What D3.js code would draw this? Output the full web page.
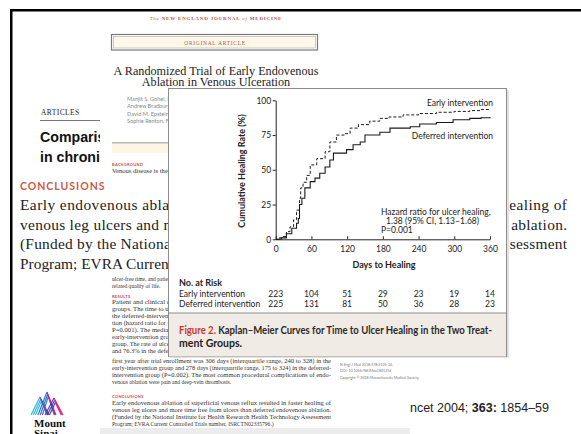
<!DOCTYPE html>
<html>
<head>
<meta charset="utf-8">
<script src="https://cdn.jsdelivr.net/npm/d3@7"></script>
<style>
  body { margin: 0; background: #fff; }
  svg { display: block; }
</style>
</head>
<body>
<svg id="slide" width="581" height="434"></svg>
<script>
// Kaplan-Meier curves
var earlyDays = [0, 10, 18, 24, 30, 35, 40, 42, 46, 52, 58, 69, 83, 91, 102, 116, 125, 139, 158, 175, 190, 214, 240, 270, 300, 326, 345, 360];
var earlyRate = [0, 2, 5.5, 9, 14, 21, 29.5, 37, 41, 46, 53.5, 58, 63, 70, 75, 76, 80, 82.5, 85, 87, 88, 89.5, 90.5, 91.4, 92, 92.6, 93.4, 93.8];
var deferredDays = [0, 7, 18, 27, 35, 38, 40, 44, 49, 58, 66, 74, 83, 91, 97, 108, 119, 130, 142, 150, 175, 192, 226, 242, 270, 298, 326, 345, 360];
var deferredRate = [0, 1, 4, 8, 11.5, 15, 25, 29.5, 37, 41.5, 44, 47.5, 52, 57, 62, 62, 64.5, 68, 70, 75, 77, 80, 81, 83, 84, 86, 87, 87.5, 88];

var xTicks = [0, 60, 120, 180, 240, 300, 360];
var yTicks = [0, 25, 50, 75, 100];
var riskEarly = [223, 104, 51, 29, 23, 19, 14];
var riskDeferred = [225, 131, 81, 50, 36, 28, 23];

var conclusionLines = [
  "Early endovenous ablation of superficial venous reflux resulted in faster healing of",
  "venous leg ulcers and more time free from ulcers than deferred endovenous ablation.",
  "(Funded by the National Institute for Health Research Health Technology Assessment",
  "Program; EVRA Current Controlled Trials number, ISRCTN02335796.)"
];
var resultsLines = [
  "Patient and clinical characteristics at baseline were similar in the two treatment",
  "groups. The time to ulcer healing was shorter among patients randomly assigned to",
  "the deferred-intervention group. The time to ulcer healing was shorter in the early",
  "tion (hazard ratio for ulcer healing, 1.38; 95% confidence interval [CI], 1.13 to 1.68;",
  "P=0.001). The median time to ulcer healing was 56 days (95% CI, 49 to 66) in the",
  "early-intervention group and 82 days (95% CI, 69 to 92) in the deferred-intervention",
  "group. The rate of ulcer healing at 24 weeks was 85.6% in the early-intervention group",
  "and 76.3% in the deferred-intervention group. The median ulcer-free time during the",
  "first year after trial enrollment was 306 days (interquartile range, 240 to 328) in the",
  "early-intervention group and 278 days (interquartile range, 175 to 324) in the deferred-",
  "intervention group (P=0.002). The most common procedural complications of endo-",
  "venous ablation were pain and deep-vein thrombosis."
];
var authorLines = ["Manjit S. Gohel, M.D.,", "Andrew Bradbury, M.D.,", "David M. Epstein, Ph.D.,", "Sophie Renton, F.R.C.S.,"];

var svg = d3.select("#slide");
var serif = "'Liberation Serif', 'DejaVu Serif', serif";
var sans = "Lato, 'Noto Sans', sans-serif";
var nejmRed = "#b3554a";

svg.append("rect").attr("width", 581).attr("height", 434).attr("fill", "#fff");

// ---- Lancet article behind everything ----
var lancet = svg.append("g");
lancet.append("text").attr("x", 41).attr("y", 115)
  .style("font-family", serif).style("font-size", "7.5px").style("letter-spacing", "0.4px")
  .attr("fill", "#222").text("ARTICLES");
lancet.append("line").attr("x1", 40).attr("x2", 110).attr("y1", 120.5).attr("y2", 120.5)
  .attr("stroke", "#555").attr("stroke-width", 0.8);
lancet.append("defs").append("clipPath").attr("id", "lclip")
  .append("rect").attr("x", 0).attr("y", 0).attr("width", 581).attr("height", 174);
["Comparison of surgery and compression", "in chronic venous ulceration", "venous ulceration (ESCHAR)"].forEach(function(t, i){
  lancet.append("text").attr("x", 40).attr("y", 142 + i * 20)
    .attr("clip-path", "url(#lclip)")
    .style("font-family", "'Liberation Sans', Arial, sans-serif").style("font-weight", "bold")
    .style("font-size", "14.2px").attr("fill", "#111").text(t);
});
lancet.append("text").attr("x", 549).attr("y", 412).attr("text-anchor", "end")
  .style("font-family", "'Liberation Sans', Arial, sans-serif").style("font-size", "12.5px")
  .attr("fill", "#222")
  .html("The Lancet 2004; <tspan font-weight='bold'>363:</tspan> 1854–59");

// ---- NEJM page ----
var nejm = svg.append("g");
nejm.append("rect").attr("x", 100).attr("y", 11).attr("width", 310).attr("height", 417).attr("fill", "#fff");
nejm.append("rect").attr("x", 100).attr("y", 428).attr("width", 310).attr("height", 6).attr("fill", "#ececec");

var head = nejm.append("text").attr("x", 216).attr("y", 19.5).attr("text-anchor", "middle")
  .style("font-family", serif).style("font-size", "5px").style("letter-spacing", "0.8px")
  .attr("fill", nejmRed);
head.append("tspan").style("font-style", "italic").text("The ");
head.append("tspan").style("font-weight", "bold").text("NEW ENGLAND JOURNAL ");
head.append("tspan").style("font-style", "italic").text("of ");
head.append("tspan").style("font-weight", "bold").text("MEDICINE");

nejm.append("rect").attr("x", 111.5).attr("y", 34.5).attr("width", 206).attr("height", 15.5)
  .attr("fill", "none").attr("stroke", "#7a7a7a").attr("stroke-width", 1.2);
nejm.append("rect").attr("x", 113.5).attr("y", 36.5).attr("width", 202).attr("height", 11.5)
  .attr("fill", "#fdf8e8").attr("stroke", "#aaa").attr("stroke-width", 0.6);
nejm.append("text").attr("x", 215).attr("y", 44.5).attr("text-anchor", "middle")
  .style("font-family", serif).style("font-size", "5.5px").style("letter-spacing", "0.7px")
  .attr("fill", nejmRed).text("ORIGINAL ARTICLE");

["A Randomized Trial of Early Endovenous", "Ablation in Venous Ulceration"].forEach(function(t, i){
  nejm.append("text").attr("x", 216).attr("y", 74.5 + i * 11.5).attr("text-anchor", "middle")
    .style("font-family", serif).style("font-size", "12.2px").attr("fill", "#222").text(t);
});
authorLines.forEach(function(t, i){
  nejm.append("text").attr("x", 127).attr("y", 100.5 + i * 7.5)
    .style("font-family", sans).style("font-size", "5.6px").attr("fill", "#8a8a8a").text(t);
});
nejm.append("line").attr("x1", 112).attr("x2", 331).attr("y1", 143).attr("y2", 143)
  .attr("stroke", "#666").attr("stroke-width", 0.9);
nejm.append("rect").attr("x", 112).attr("y", 143.5).attr("width", 219).attr("height", 9.5).attr("fill", "#fdf6e3");

function smallHead(t, y){
  nejm.append("text").attr("x", 112).attr("y", y)
    .style("font-family", sans).style("font-weight", "bold").style("font-size", "4px")
    .style("letter-spacing", "0.3px").attr("fill", "#c0504d").text(t);
}
function smallLine(t, y, justify){
  var s = nejm.append("text").attr("x", 112).attr("y", y)
    .style("font-family", serif).style("font-size", "5.6px").attr("fill", "#333").text(t);
  if (justify) s.attr("textLength", 219).attr("lengthAdjust", "spacingAndGlyphs");
}
smallHead("BACKGROUND", 166);
smallLine("Venous disease is the most common cause of leg ulceration. Although compression", 173, true);
smallLine("ulcer-free time, and patient-reported health-", 281, false);
smallLine("related quality of life.", 288, false);
smallHead("RESULTS", 298);
resultsLines.forEach(function(t, i){
  var y = i < 8 ? 304 + i * 7 : 363 + (i - 8) * 7;
  smallLine(t, y, i < resultsLines.length - 1);
});
smallHead("CONCLUSIONS", 398);
conclusionLines.forEach(function(t, i){
  smallLine(t, 405 + i * 7, i < 3);
});
["N Engl J Med 2018;378:2105-14.", "DOI: 10.1056/NEJMoa1801214", "Copyright © 2018 Massachusetts Medical Society."].forEach(function(t, i){
  nejm.append("text").attr("x", 340).attr("y", 366 + i * 6.3)
    .style("font-family", sans).style("font-size", "3.6px").attr("fill", "#777").text(t);
});

// ---- big conclusions overlay ----
var conc = svg.append("g");
conc.append("rect").attr("x", 12.5).attr("y", 175).attr("width", 568.5).attr("height", 98).attr("fill", "#fff");
conc.append("text").attr("x", 20).attr("y", 190)
  .style("font-family", sans).style("font-weight", "bold").style("font-size", "10.5px")
  .style("letter-spacing", "1px").attr("fill", "#c95a47").text("CONCLUSIONS");
conclusionLines.forEach(function(t, i){
  var s = conc.append("text").attr("x", 20).attr("y", 210 + i * 19.5)
    .style("font-family", serif).style("font-size", "15.4px").attr("fill", "#222").text(t);
  if (i < 3) s.attr("textLength", 547).attr("lengthAdjust", "spacing");
});

// ---- chart card ----
var card = svg.append("g");
card.append("rect").attr("x", 170).attr("y", 90).attr("width", 339).attr("height", 268).attr("fill", "#e2e2e2");
card.append("rect").attr("x", 168.5).attr("y", 88.5).attr("width", 338).attr("height", 268)
  .attr("fill", "#fff").attr("stroke", "#8c8c8c").attr("stroke-width", 1);
card.append("rect").attr("x", 169).attr("y", 313).attr("width", 337).attr("height", 43.5).attr("fill", "#f1ebe5");
card.append("line").attr("x1", 169).attr("x2", 506).attr("y1", 313).attr("y2", 313)
  .attr("stroke", "#8c8c8c").attr("stroke-width", 1);

var x = d3.scaleLinear().domain([0, 360]).range([275.7, 490]);
var y = d3.scaleLinear().domain([0, 100]).range([239.3, 100.3]);

var yAxis = card.append("g").attr("transform", "translate(275.7,0)")
  .call(d3.axisLeft(y).tickValues(yTicks).tickSize(3).tickSizeOuter(0).tickPadding(1.5));
var xAxis = card.append("g").attr("transform", "translate(0,239.3)")
  .call(d3.axisBottom(x).tickValues(xTicks).tickSize(-3).tickSizeOuter(0).tickPadding(7));
[yAxis, xAxis].forEach(function(a){
  a.select(".domain").attr("stroke", "#222");
  a.selectAll(".tick line").attr("stroke", "#222");
  a.selectAll(".tick text").style("font-family", sans).style("font-size", "8.5px").attr("fill", "#222");
});

var line = d3.line()
  .x(function(d){ return x(d[0]); })
  .y(function(d){ return y(d[1]); })
  .curve(d3.curveStepAfter);
var early = earlyDays.map(function(d, i){ return [d, earlyRate[i]]; });
var deferred = deferredDays.map(function(d, i){ return [d, deferredRate[i]]; });

card.append("path").datum(deferred).attr("d", line)
  .attr("fill", "none").attr("stroke", "#1a1a1a").attr("stroke-width", 1.1);
card.append("path").datum(early).attr("d", line)
  .attr("fill", "none").attr("stroke", "#1a1a1a").attr("stroke-width", 1)
  .attr("stroke-dasharray", "3,2");

function label(t, xx, yy, anchor, weight, size){
  return card.append("text").attr("x", xx).attr("y", yy).attr("text-anchor", anchor || "start")
    .style("font-family", sans).style("font-weight", weight || "normal")
    .style("font-size", (size || 8.5) + "px").attr("fill", "#222").text(t);
}
label("Early intervention", 493, 106, "end");
label("Deferred intervention", 493, 139, "end");
label("Hazard ratio for ulcer healing,", 381, 215);
label("1.38 (95% CI, 1.13–1.68)", 386, 224);
label("P=0.001", 381, 233);
label("Days to Healing", 384, 268, "middle", "bold", 9);
card.append("text").attr("transform", "translate(245,171) rotate(-90)").attr("text-anchor", "middle")
  .style("font-family", sans).style("font-weight", "bold").style("font-size", "9px")
  .attr("fill", "#222").text("Cumulative Healing Rate (%)");

// number at risk table
label("No. at Risk", 179, 286, "start", "bold", 9);
label("Early intervention", 179, 296.5);
label("Deferred intervention", 179, 306.5);
card.selectAll(".riskE").data(riskEarly).enter().append("text")
  .attr("x", function(d, i){ return x(xTicks[i]); }).attr("y", 296.5).attr("text-anchor", "middle")
  .style("font-family", sans).style("font-size", "8.5px").attr("fill", "#222")
  .text(function(d){ return d; });
card.selectAll(".riskD").data(riskDeferred).enter().append("text")
  .attr("x", function(d, i){ return x(xTicks[i]); }).attr("y", 306.5).attr("text-anchor", "middle")
  .style("font-family", sans).style("font-size", "8.5px").attr("fill", "#222")
  .text(function(d){ return d; });

var cap = card.append("text").attr("x", 179).attr("y", 334)
  .style("font-family", sans).style("font-weight", "bold").style("font-size", "10.5px")
  .attr("textLength", 313).attr("lengthAdjust", "spacingAndGlyphs");
cap.append("tspan").attr("fill", "#c8372d").text("Figure 2. ");
cap.append("tspan").attr("fill", "#2a2a2a").text("Kaplan–Meier Curves for Time to Ulcer Healing in the Two Treat-");
label("ment Groups.", 179, 347, "start", "bold", 10.5);

// ---- Mount Sinai mark ----
var logo = svg.append("g");
var peaks = [[40, 397, "#1fb6e8", "#7a3ea0"], [47, 392, "#2a6fd6", "#b12a9a"], [54, 398, "#3b3fb8", "#e0218a"]];
peaks.forEach(function(p){
  for (var k = 0; k < 3; k++) {
    var o = k * 2.2;
    logo.append("line").attr("x1", p[0] - 9 + o).attr("y1", 415).attr("x2", p[0] + o * 0.3).attr("y2", p[1] + o)
      .attr("stroke", p[2]).attr("stroke-width", 1.1);
    logo.append("line").attr("x1", p[0] + o * 0.3).attr("y1", p[1] + o).attr("x2", p[0] + 9 - o * 0.4).attr("y2", 415)
      .attr("stroke", p[3]).attr("stroke-width", 1.1);
  }
});
["Mount", "Sinai"].forEach(function(t, i){
  logo.append("text").attr("x", 34).attr("y", 427 + i * 10)
    .style("font-family", serif).style("font-weight", "bold").style("font-size", "11px")
    .attr("fill", "#111").text(t);
});

// ---- frame ----
svg.append("rect").attr("x", 10).attr("y", 9).attr("width", 571).attr("height", 2.5).attr("fill", "#000");
svg.append("rect").attr("x", 10).attr("y", 9).attr("width", 2.5).attr("height", 425).attr("fill", "#000");
</script>
</body>
</html>
